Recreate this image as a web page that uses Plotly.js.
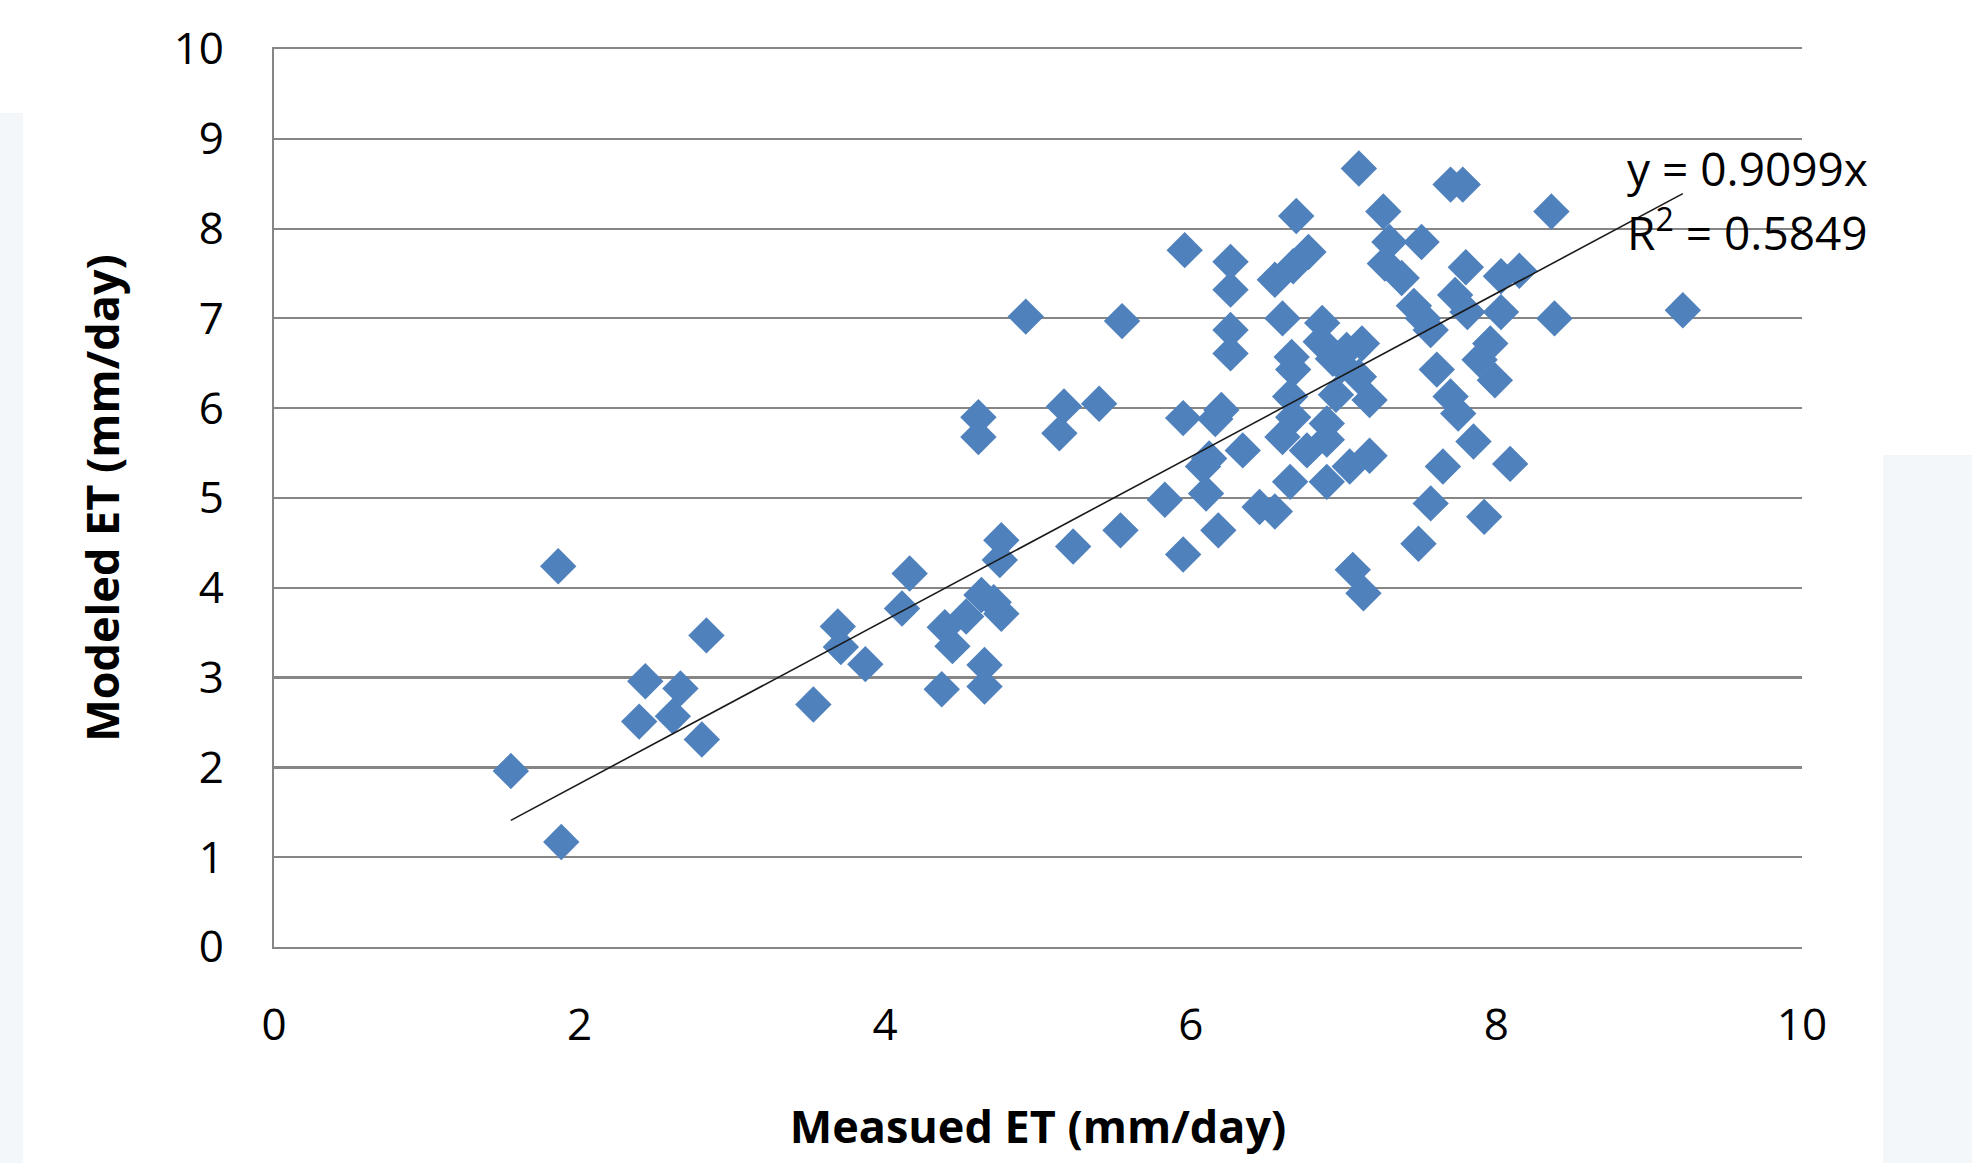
<!DOCTYPE html>
<html>
<head>
<meta charset="utf-8">
<script src="https://cdn.plot.ly/plotly-3.0.1.min.js"></script>
<style>
  html, body { margin: 0; padding: 0; background: #ffffff; width: 1972px; height: 1163px; overflow: hidden; }
  #stripL { position: absolute; left: 0; top: 113px; width: 23px; height: 1050px; background: #f3f7fa; }
  #stripR { position: absolute; left: 1883px; top: 455px; width: 89px; height: 708px; background: #f3f7fa; }
  #chart { position: absolute; left: 23px; top: 0; width: 1860px; height: 1163px; }
</style>
</head>
<body>
<div id="stripL"></div>
<div id="stripR"></div>
<div id="chart"></div>
<script>
// Measured ET (mm/day)
const measuredET = [
  1.55, 1.86, 1.88, 2.43, 2.39, 2.66, 2.61, 2.80, 2.83, 3.53,
  3.69, 3.71, 3.87, 4.16, 4.11, 4.37, 4.39, 4.44, 4.53, 4.63,
  4.71, 4.76, 4.65, 4.65, 4.76, 4.75,
  4.61, 4.61, 4.92, 5.14, 5.17, 5.40, 5.23, 5.54, 5.55, 5.83,
  5.95, 5.95, 5.96, 6.18, 6.20, 6.16, 6.08, 6.12, 6.10, 6.34,
  6.45, 6.55, 6.26, 6.26, 6.26, 6.26, 6.55, 6.67, 6.77, 6.69,
  6.60, 6.86, 6.85, 6.66, 6.67, 6.65, 6.60, 6.65, 6.76, 6.89,
  6.89, 7.04, 7.17, 7.06, 7.13, 7.10, 6.95, 6.99, 7.02, 7.12,
  7.10, 7.17, 6.89, 6.67, 6.93,
  7.70, 7.78, 8.36, 7.26, 7.30, 7.51, 7.27, 7.38, 7.80, 7.73,
  7.81, 7.46, 7.52, 7.57, 8.03, 8.15, 8.03, 8.38, 9.22, 7.96,
  7.89, 7.99, 7.61, 7.70, 7.75, 7.85, 7.65, 8.09, 7.57, 7.92,
  7.49
];
// Modeled ET (mm/day)
const modeledET = [
  1.96, 4.24, 1.17, 2.96, 2.51, 2.88, 2.57, 2.31, 3.47, 2.70,
  3.57, 3.34, 3.15, 4.16, 3.77, 2.87, 3.56, 3.35, 3.68, 3.92,
  3.84, 3.71, 3.14, 2.90, 4.53, 4.31,
  5.90, 5.68, 7.02, 5.72, 6.02, 6.05, 4.46, 4.64, 6.97, 4.98,
  4.37, 5.89, 7.76, 4.64, 5.98, 5.88, 5.35, 5.44, 5.05, 5.53,
  4.90, 4.85, 7.63, 7.32, 6.87, 6.61, 7.43, 7.58, 7.74, 8.14,
  7.00, 6.95, 6.74, 6.57, 6.43, 6.13, 5.68, 5.18, 5.53, 5.65,
  5.18, 5.35, 5.47, 4.20, 3.94, 8.67, 6.15, 6.48, 6.65, 6.72,
  6.35, 6.09, 5.83, 5.90, 6.55,
  8.49, 8.49, 8.19, 8.19, 7.85, 7.85, 7.61, 7.45, 7.57, 7.26,
  7.07, 7.14, 7.00, 6.87, 7.47, 7.53, 7.07, 7.00, 7.09, 6.72,
  6.54, 6.31, 6.43, 6.13, 5.94, 5.63, 5.35, 5.38, 4.94, 4.79,
  4.49
];
const trendSlope = 0.9099;
const rSquared = 0.5849;
const xTickVals = [0, 2, 4, 6, 8, 10];
const yTickVals = [0, 1, 2, 3, 4, 5, 6, 7, 8, 9, 10];

const xMin = Math.min(...measuredET);
const xMax = Math.max(...measuredET);
const trendX = [xMin, xMax];
const trendY = trendX.map(v => trendSlope * v);

const FONT = '"Open Sans", "DejaVu Sans", sans-serif';
const GRID = '#868686';

const traces = [
  {
    type: 'scatter', mode: 'markers',
    x: measuredET, y: modeledET,
    marker: { symbol: 'diamond', size: 28, color: '#4F81BD', line: { width: 0 } },
    hoverinfo: 'x+y', showlegend: false
  },
  {
    type: 'scatter', mode: 'lines',
    x: trendX, y: trendY,
    line: { color: '#1a1a1a', width: 1.6 },
    hoverinfo: 'skip', showlegend: false
  }
];

const layout = {
  width: 1860, height: 1163,
  paper_bgcolor: '#ffffff', plot_bgcolor: '#ffffff',
  margin: { l: 251, r: 81, t: 49, b: 216 },
  font: { family: FONT, color: '#000000', size: 44 },
  showlegend: false,
  xaxis: {
    range: [0, 10], tickmode: 'array', tickvals: xTickVals,
    showgrid: false, zeroline: false,
    showline: true, mirror: true, linecolor: GRID, linewidth: 2.2,
    ticks: '', ticklabelstandoff: 38,
    tickfont: { family: FONT, size: 44, color: '#000000' },
    title: { text: 'Measued ET (mm/day)', standoff: 60,
             font: { family: FONT, size: 45, color: '#000000', weight: 'bold' } }
  },
  yaxis: {
    range: [0, 10], tickmode: 'array', tickvals: yTickVals,
    showgrid: true, gridcolor: GRID, gridwidth: 2.2,
    zeroline: false,
    showline: true, linecolor: GRID, linewidth: 2.2,
    ticks: '', ticklabelstandoff: 39,
    tickfont: { family: FONT, size: 44, color: '#000000' },
    title: { text: 'Modeled ET (mm/day)', standoff: 40,
             font: { family: FONT, size: 45, color: '#000000', weight: 'bold' } }
  },
  annotations: [
    { xref: 'x', yref: 'y', x: 8.84, y: 8.67, xanchor: 'left', yanchor: 'middle',
      text: 'y = ' + trendSlope.toFixed(4) + 'x', showarrow: false,
      font: { family: FONT, size: 46, color: '#000000' } },
    { xref: 'x', yref: 'y', x: 8.84, y: 7.99, xanchor: 'left', yanchor: 'middle',
      text: 'R<sup>2</sup> = ' + rSquared.toFixed(4), showarrow: false,
      font: { family: FONT, size: 46, color: '#000000' } }
  ]
};

Plotly.newPlot('chart', traces, layout, { displayModeBar: false, staticPlot: true });
</script>
</body>
</html>
